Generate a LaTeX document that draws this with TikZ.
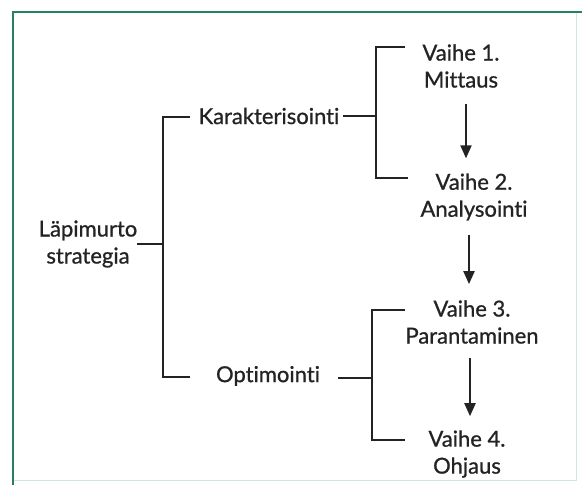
\documentclass[tikz,border=0pt]{standalone}
\usepackage{fontspec}
\setmainfont{Lato}[Ligatures={NoCommon}, FakeBold=0.8]
\usetikzlibrary{arrows.meta}
\definecolor{framegreen}{RGB}{38,128,98}
\definecolor{ink}{RGB}{35,35,35}
\tikzset{
  lbl/.style={inner sep=0pt, align=center, text=ink, font=\fontsize{22}{27}\selectfont},
  ln/.style={draw=ink, line width=1.9pt},
  arr/.style={draw=ink, line width=2.1pt, -{Triangle[length=13pt,width=11pt]}},
}
\begin{document}
\begin{tikzpicture}[x=1pt,y=-1pt]
\useasboundingbox (0,0) rectangle (582,485);
\fill[white] (0,0) rectangle (582,485);
% frame
\draw[framegreen!20, line width=1pt] (576,12) -- (576,480) -- (13,480);
\draw[framegreen, line width=2.2pt] (13,485) -- (13,12) -- (582,12);
% nodes
\node[lbl] (lap) at (88,244) {Läpimurto\\strategia};
\node[lbl] (kar) at (269,116) {Karakterisointi};
\node[lbl] (opt) at (268,376) {Optimointi};
\node[lbl] (v1) at (461,66) {Vaihe 1.\\Mittaus};
\node[lbl] (v2) at (474,197) {Vaihe 2.\\Analysointi};
\node[lbl] (v3) at (472,322) {Vaihe 3.\\Parantaminen};
\node[lbl] (v4) at (467,454) {Vaihe 4.\\Ohjaus};
% bracket coordinates
\coordinate (l0) at (137,244);
\coordinate (l1) at (163,244);
\coordinate (m1) at (190,117);
\coordinate (m2) at (190,377);
\coordinate (k0) at (343,116);
\coordinate (k1) at (376,116);
\coordinate (k2) at (405,47);
\coordinate (k3) at (408,178);
\coordinate (o0) at (338,378);
\coordinate (o1) at (372,378);
\coordinate (o2) at (405,310);
\coordinate (o3) at (405,440);
% brackets
\draw[ln] (l0) -- (l1);
\draw[ln] (m1) -| (l1) |- (m2);
\draw[ln] (k0) -- (k1);
\draw[ln] (k2) -| (k1) |- (k3);
\draw[ln] (o0) -- (o1);
\draw[ln] (o2) -| (o1) |- (o3);
% arrows
\coordinate (a1) at (466,0);
\coordinate (a2) at (469,0);
\coordinate (a3) at (470,0);
\draw[arr] (v1.south -| a1) ++(0,16) -- ([yshift=15pt]v2.north -| a1);
\draw[arr] (v2.south -| a2) ++(0,14) -- ([yshift=16pt]v3.north -| a2);
\draw[arr] (v3.south -| a3) ++(0,14) -- ([yshift=14pt]v4.north -| a3);
\end{tikzpicture}
\end{document}
